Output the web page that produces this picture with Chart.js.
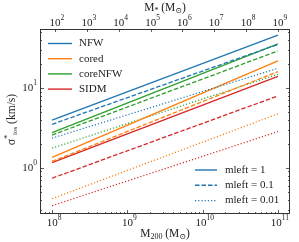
<!DOCTYPE html>
<html>
<head>
<meta charset="utf-8">
<script src="https://cdn.jsdelivr.net/npm/chart.js@4"></script>
<style>
  html, body { margin: 0; padding: 0; background: #fff; }
  #wrap { width: 299px; height: 242px; }
</style>
</head>
<body>
<div id="wrap"><canvas id="c" width="299" height="242"></canvas></div>
<script>
// halo mass endpoints (M200, Msun)
const m200 = [1e8, 1e11];
const models = ['NFW', 'cored', 'coreNFW', 'SIDM'];
const colors = ['#1f77b4', '#ff7f0e', '#2ca02c', '#d62728'];
const mlefts = ['1', '0.1', '0.01'];

// sigma_los (km/s) at the two endpoints, per model and mleft
const nfw_1 = [3.95, 45.9], nfw_01 = [3.5, 35.0], nfw_001 = [2.35, 17.6];
const cored_1 = [1.35, 21.8], cored_01 = [1.2, 16.0], cored_001 = [0.41, 4.73];
const corenfw_1 = [2.76, 35.5], corenfw_01 = [2.57, 29.0], corenfw_001 = [1.76, 14.8];
const sidm_1 = [1.16, 13.9], sidm_01 = [0.74, 7.94], sidm_001 = [0.335, 2.84];

const series = [
  [nfw_1, nfw_01, nfw_001],
  [cored_1, cored_01, cored_001],
  [corenfw_1, corenfw_01, corenfw_001],
  [sidm_1, sidm_01, sidm_001],
];

const FONT = '"Liberation Serif", "DejaVu Serif", serif';
const dashes = [[], [4.5, 2], [1.2, 2]];

const datasets = [];
series.forEach((grp, i) => {
  grp.forEach((vals, j) => {
    datasets.push({
      label: models[i] + ' mleft=' + mlefts[j],
      data: m200.map((x, k) => ({ x, y: vals[k] })),
      borderColor: colors[i],
      borderWidth: j === 2 ? 1.2 : 1.3,
      borderDash: dashes[j],
      pointRadius: 0,
      fill: false,
      tension: 0
    });
  });
});

// draw mixed-size text pieces; segs = [[text, size, dy]]
function richText(ctx, segs, x, y, align) {
  let w = 0;
  segs.forEach(s => { ctx.font = s[1] + 'px ' + FONT; w += ctx.measureText(s[0]).width; });
  let cx = align === 'right' ? x - w : align === 'left' ? x : x - w / 2;
  ctx.textBaseline = 'middle';
  ctx.textAlign = 'left';
  segs.forEach(s => {
    ctx.font = s[1] + 'px ' + FONT;
    ctx.fillText(s[0], cx, y + (s[2] || 0));
    cx += ctx.measureText(s[0]).width;
  });
}

function pow10(ctx, e, x, y, align) {
  richText(ctx, [['10', 11, 1], [String(e), 7.5, -4]], x, y, align);
}

function logTicks(scale, minor) {
  const out = [];
  const lo = Math.floor(Math.log10(scale.min)), hi = Math.ceil(Math.log10(scale.max));
  for (let d = lo; d <= hi; d++) {
    for (let m = 1; m <= (minor ? 9 : 1); m++) {
      const v = m * Math.pow(10, d);
      if (v >= scale.min && v <= scale.max) out.push({ v, major: m === 1, exp: d });
    }
  }
  return out;
}

const decor = {
  id: 'decor',
  afterDraw(chart) {
    const ctx = chart.ctx, a = chart.chartArea;
    const sx = chart.scales.x, sy = chart.scales.y, st = chart.scales.x2;
    ctx.save();
    ctx.strokeStyle = '#333';
    ctx.fillStyle = '#222';
    ctx.lineWidth = 1;
    ctx.strokeRect(a.left + 0.5, a.top + 0.5, a.right - a.left - 1, a.bottom - a.top - 1);

    ctx.lineWidth = 0.8;
    ctx.beginPath();
    logTicks(sx, true).forEach(t => {
      const p = Math.round(sx.getPixelForValue(t.v)) + 0.5, L = t.major ? 4 : 2;
      ctx.moveTo(p, a.bottom); ctx.lineTo(p, a.bottom - L);
    });
    logTicks(sy, true).forEach(t => {
      const p = Math.round(sy.getPixelForValue(t.v)) + 0.5, L = t.major ? 4 : 2;
      ctx.moveTo(a.left, p); ctx.lineTo(a.left + L, p);
      ctx.moveTo(a.right, p); ctx.lineTo(a.right - L, p);
    });
    logTicks(st, false).forEach(t => {
      const p = Math.round(st.getPixelForValue(t.v)) + 0.5;
      ctx.moveTo(p, a.top); ctx.lineTo(p, a.top + 3);
    });
    ctx.stroke();

    logTicks(sx, false).forEach(t => pow10(ctx, t.exp, sx.getPixelForValue(t.v) + 2, a.bottom + 8, 'center'));
    logTicks(st, false).forEach(t => pow10(ctx, t.exp, st.getPixelForValue(t.v) + 2, a.top - 7, 'center'));
    logTicks(sy, false).forEach(t => pow10(ctx, t.exp, a.left - 3, sy.getPixelForValue(t.v) - 1, 'right'));

    // axis titles
    const cxm = (a.left + a.right) / 2;
    richText(ctx, [['M', 11.5], ['200', 8, 3], [' (M', 11.5], ['\u2299', 8, 3], [')', 11.5]], cxm, 234, 'center');
    richText(ctx, [['M', 11.5], ['*', 8, 3], [' (M', 11.5], ['\u2299', 8, 3], [')', 11.5]], cxm, 8, 'center');
    ctx.save();
    ctx.translate(12, (a.top + a.bottom) / 2 - 2);
    ctx.rotate(-Math.PI / 2);
    richText(ctx, [['\u03c3', 12], ['*', 7.5, -4], ['los', 7, 3], [' (km/s)', 11.5]], 0, 0, 'center');
    ctx.restore();

    // legend: models
    models.forEach((m, i) => {
      const y = 43.5 + i * 15.2;
      ctx.strokeStyle = colors[i]; ctx.lineWidth = 1.4; ctx.setLineDash([]);
      ctx.beginPath(); ctx.moveTo(48, y); ctx.lineTo(72, y); ctx.stroke();
      ctx.fillStyle = '#222';
      richText(ctx, [[m, 11]], 79, y, 'left');
    });
    // legend: mleft line styles
    mlefts.forEach((m, j) => {
      const y = 170 + j * 15.3;
      ctx.strokeStyle = colors[0]; ctx.lineWidth = j === 2 ? 1.2 : 1.4; ctx.setLineDash(dashes[j]);
      ctx.beginPath(); ctx.moveTo(195, y); ctx.lineTo(217, y); ctx.stroke();
      ctx.setLineDash([]);
      ctx.fillStyle = '#222';
      richText(ctx, [['mleft = ' + m, 11]], 225, y, 'left');
    });
    ctx.restore();
  }
};

new Chart(document.getElementById('c'), {
  type: 'line',
  data: { datasets },
  options: {
    responsive: false,
    animation: false,
    devicePixelRatio: 1,
    layout: { padding: { left: 40, right: 9, top: 29, bottom: 28 } },
    plugins: { legend: { display: false }, tooltip: { enabled: false } },
    scales: {
      x: { type: 'logarithmic', display: false, min: Math.pow(10, 7.84), max: Math.pow(10, 11.16) },
      x2: { type: 'logarithmic', display: false, position: 'top', min: Math.pow(10, 1.53), max: Math.pow(10, 9.38) },
      y: { type: 'logarithmic', display: false, min: 0.264, max: 54.6 }
    }
  },
  plugins: [decor]
});
</script>
</body>
</html>
